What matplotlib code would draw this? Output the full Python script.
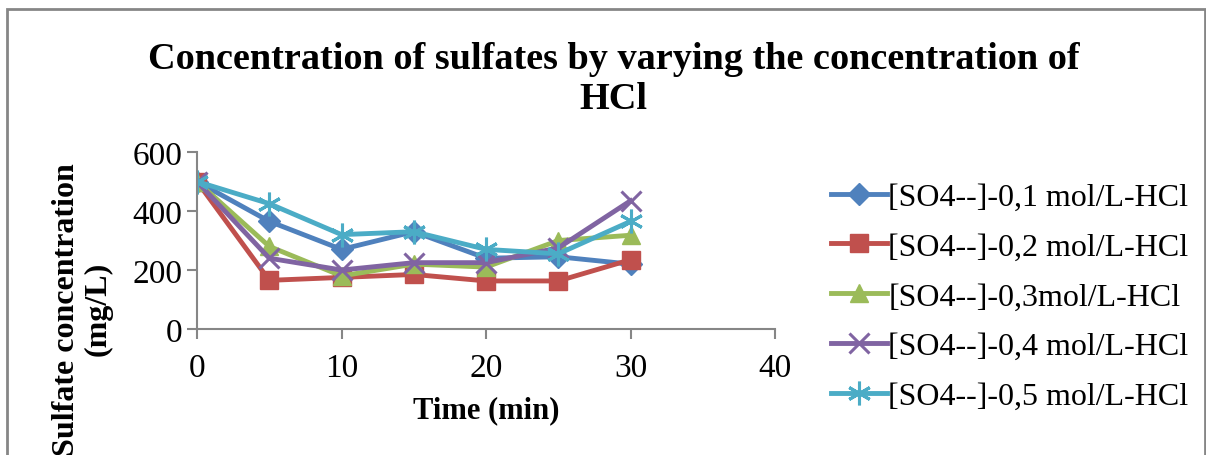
import matplotlib
matplotlib.use("Agg")
import matplotlib.pyplot as plt
from matplotlib.patches import Rectangle

plt.rcParams['font.family'] = ['Liberation Serif', 'DejaVu Serif']

# datos
time_min = [0, 5, 10, 15, 20, 25, 30]
so4_01 = [500, 365, 270, 330, 240, 245, 220]
so4_02 = [500, 165, 175, 185, 163, 163, 235]
so4_03 = [500, 280, 180, 220, 210, 300, 318]
so4_04 = [500, 240, 200, 225, 225, 275, 435]
so4_05 = [500, 425, 320, 330, 270, 255, 365]

labels = ["[SO4--]-0,1 mol/L-HCl", "[SO4--]-0,2 mol/L-HCl", "[SO4--]-0,3mol/L-HCl",
          "[SO4--]-0,4 mol/L-HCl", "[SO4--]-0,5 mol/L-HCl"]
colors = ["#4F81BD", "#C0504D", "#9BBB59", "#8064A2", "#4BACC6"]
markers = ["D", "s", "^", "x", (6, 2, 0)]
sizes = [11, 13, 13, 14, 17]

fig = plt.figure(figsize=(12.06, 4.56), dpi=100)
ax = fig.add_axes([0.1634, 0.2763, 0.4793, 0.388])

series = [so4_01, so4_02, so4_03, so4_04, so4_05]
for vals, lab, col, mk, ms in zip(series, labels, colors, markers, sizes):
    ax.plot(time_min, vals, color=col, lw=3.5, marker=mk, ms=ms, mew=2.2 if mk in ("x",) or isinstance(mk, tuple) else 1,
            mec=col, mfc=col, label=lab, solid_joinstyle='round')

ax.set_xlim(0, 40)
ax.set_ylim(0, 600)
ax.set_xticks([0, 10, 20, 30, 40])
ax.set_yticks([0, 200, 400, 600])
for side in ("top", "right"):
    ax.spines[side].set_visible(False)
for side in ("left", "bottom"):
    ax.spines[side].set_color("#868686")
    ax.spines[side].set_linewidth(1.5)
ax.tick_params(colors="#868686", labelcolor="black", labelsize=24, length=7, width=1.5)
ax.tick_params(axis="x", pad=10)
ax.set_xlabel("Time (min)", fontsize=22, fontweight="bold", labelpad=9)

fig.text(0.068, 0.322, "Sulfate concentration\n(mg/L)", rotation=90, ha="center", va="center",
         fontsize=23, fontweight="bold", multialignment="center", linespacing=1.1)

fig.text(0.509, 0.826, "Concentration of sulfates by varying the concentration of\nHCl",
         ha="center", va="center", fontsize=27.5, fontweight="bold", linespacing=1.2)

ax.legend(loc="center left", bbox_to_anchor=(0.689, 0.347), bbox_transform=fig.transFigure,
          frameon=False, fontsize=23, handlelength=1.75, handletextpad=0.05,
          labelspacing=0.64, borderaxespad=0, borderpad=0)

# marco exterior del grafico
fig.patches.append(Rectangle((7 / 1206, -0.1), 1198 / 1206, 1.1 - 10 / 456, transform=fig.transFigure,
                             fill=False, edgecolor="#868686", lw=2))

fig.savefig("out.png", dpi=100)
